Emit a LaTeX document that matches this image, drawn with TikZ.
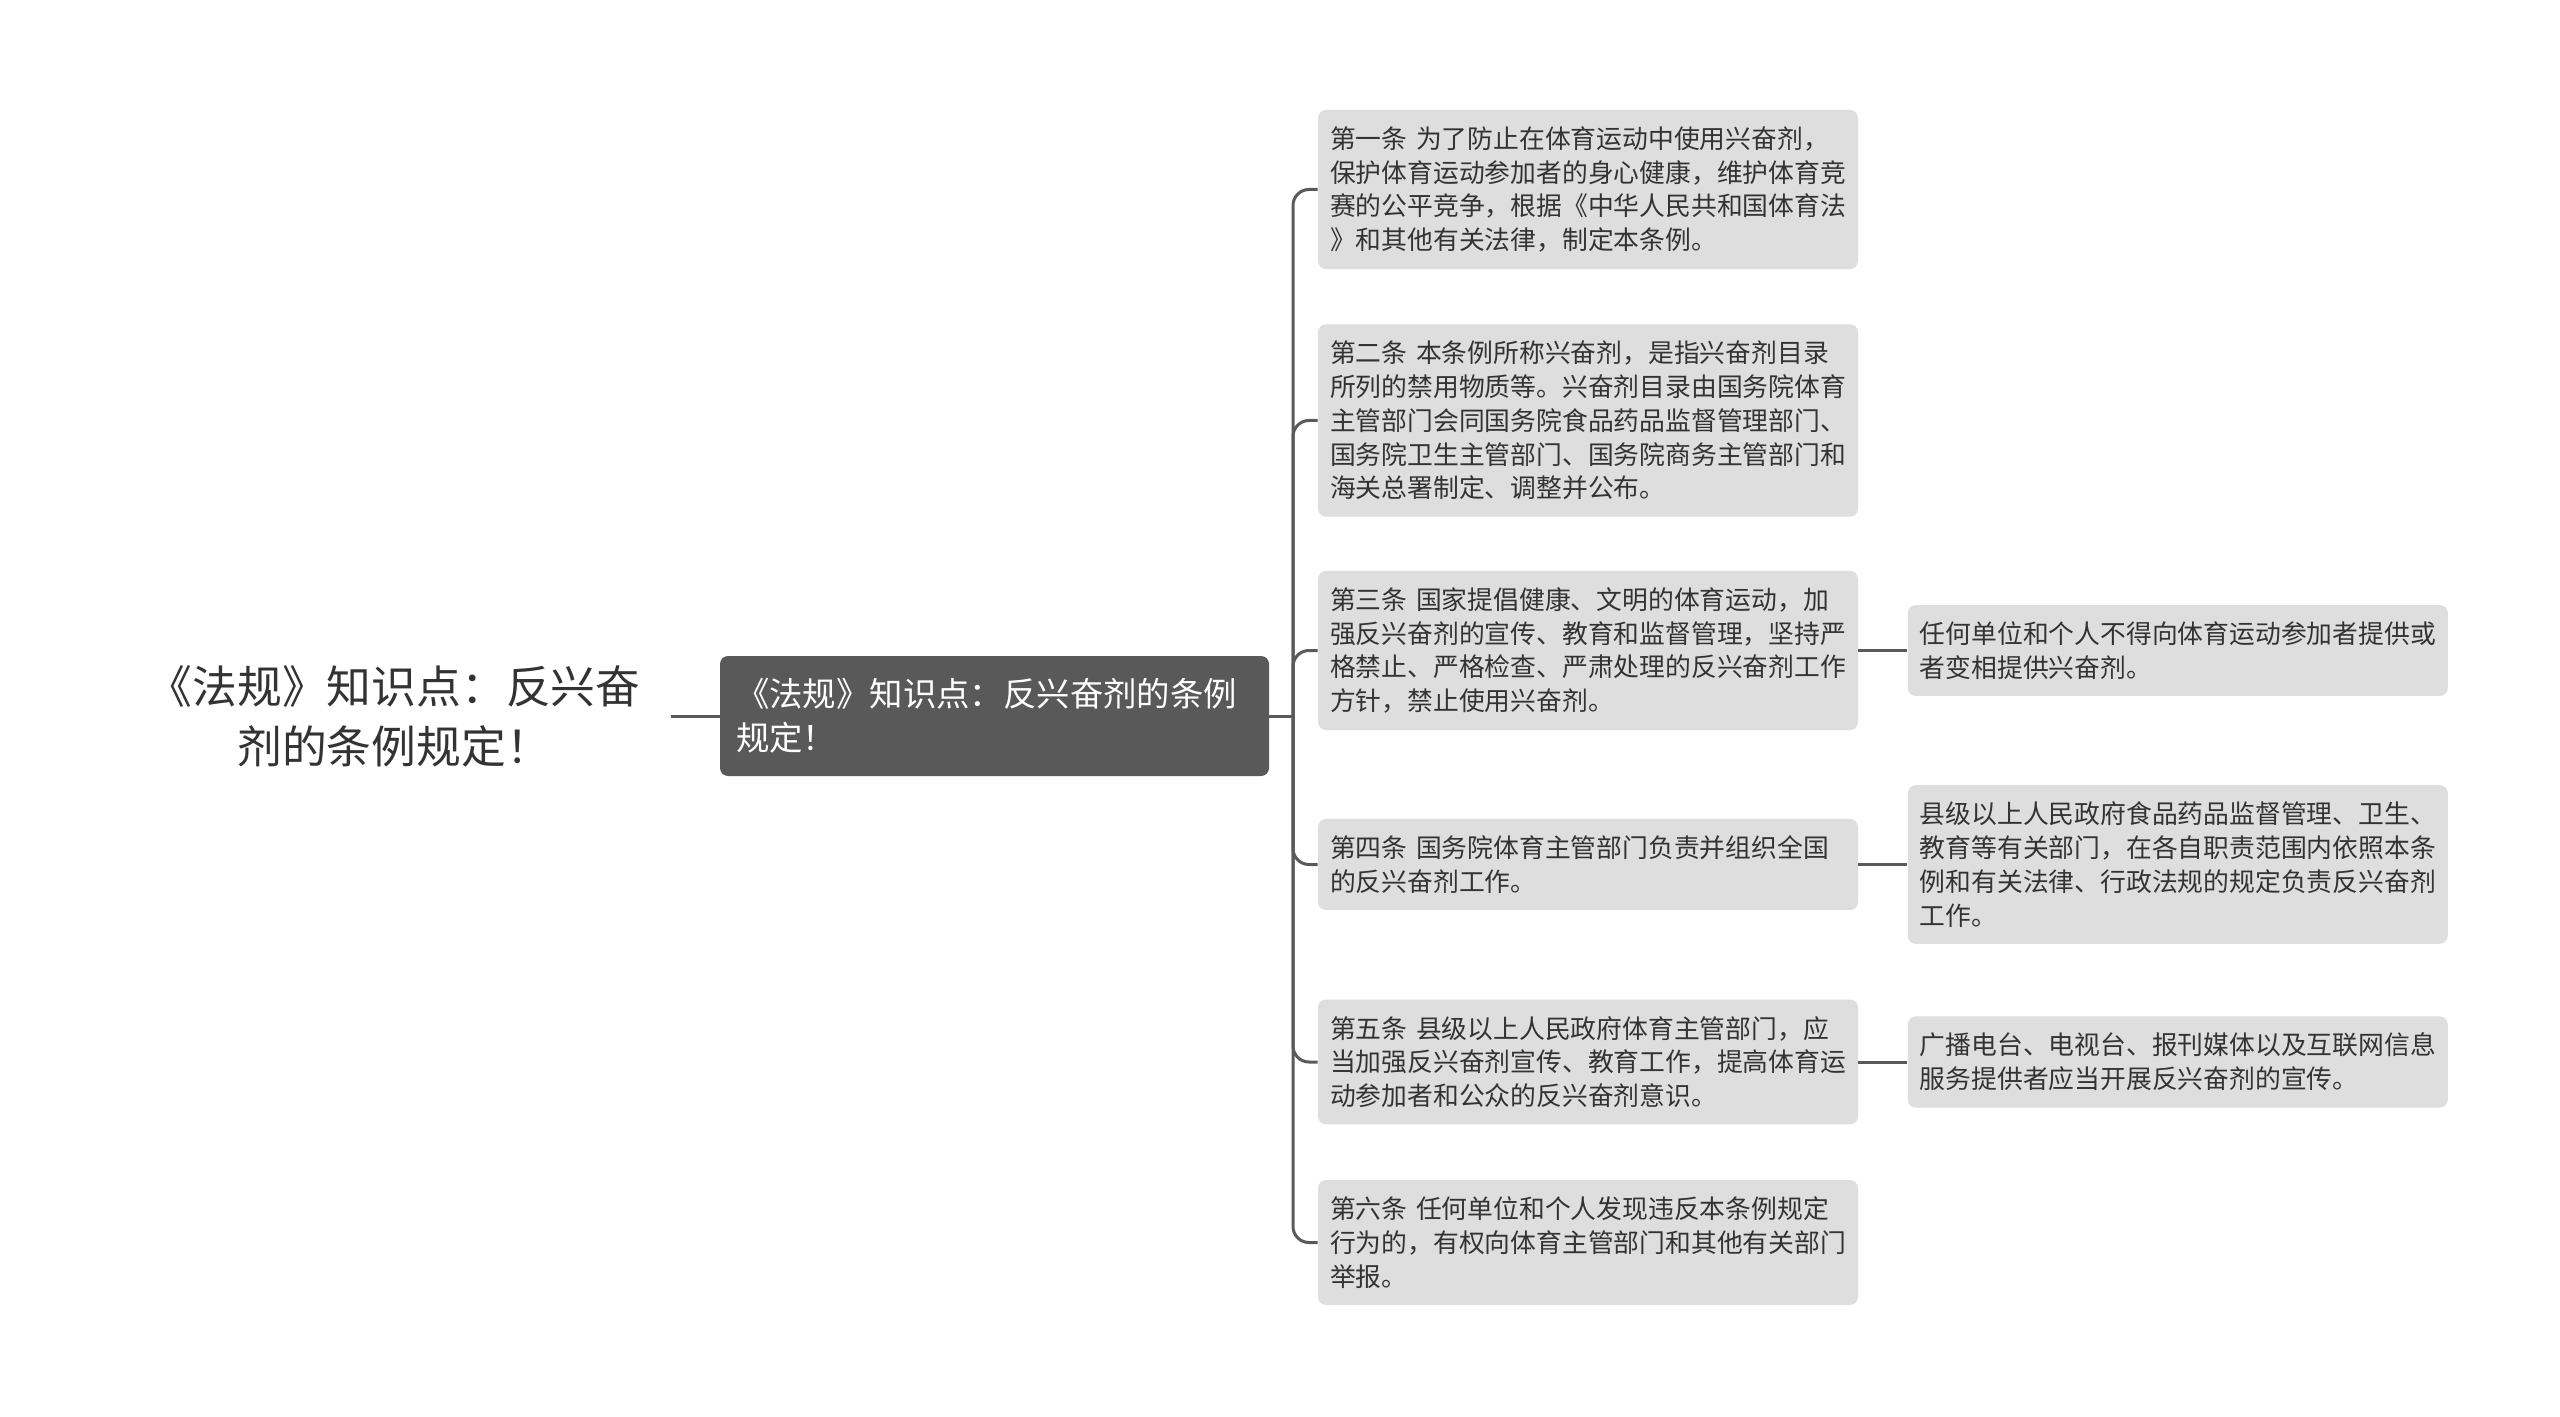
\documentclass[tikz,border=0pt]{standalone}
\usepackage{fontspec}
\setmainfont{Noto Sans CJK SC}
\usepackage{tikz}
\usetikzlibrary{positioning,calc}
\definecolor{boxgray}{HTML}{DEDEDE}
\definecolor{darkbox}{HTML}{595959}
\definecolor{linegray}{HTML}{5A5A5A}
\definecolor{txtgray}{HTML}{333333}
\tikzstyle{rtext}=[rectangle, inner xsep=15pt, text=txtgray, align=center,
                   font=\fontsize{22.4pt}{30pt}\selectfont]
\tikzstyle{cbox}=[rectangle, rounded corners=4pt, fill=darkbox, text=white,
                  minimum height=60pt, inner xsep=8pt, text width=258.5pt, align=left,
                  font=\fontsize{16.7pt}{22pt}\selectfont]
\tikzstyle{abox}=[rectangle, rounded corners=4pt, fill=boxgray, text=txtgray,
                  inner xsep=6pt, inner ysep=8.3pt, text width=258pt, align=left,
                  font=\fontsize{12.9pt}{16.9pt}\selectfont]
\tikzstyle{pline}=[-, line width=1.5pt, draw=linegray, rounded corners=8pt]

\begin{document}
\begin{tikzpicture}[x=0.5pt, y=-0.5pt]
\fill[white] (0,0) rectangle (2560,1417);
\useasboundingbox (0,0) rectangle (2560,1417);

\node (ROOT) [rtext] at (394,716) {《法规》知识点：反兴奋\\剂的条例规定！};
\node (CENTER) [cbox] at (994.5,716) {《法规》知识点：反兴奋剂的条例\\规定！};
\coordinate (HUB) at (1293,716);

\node (ART1) [abox] at (1588,189.5) {第一条 为了防止在体育运动中使用兴奋剂，\\保护体育运动参加者的身心健康，维护体育竞\\赛的公平竞争，根据《中华人民共和国体育法\\》和其他有关法律，制定本条例。};
\node (ART2) [abox] at (1588,420.5) {第二条 本条例所称兴奋剂，是指兴奋剂目录\\所列的禁用物质等。兴奋剂目录由国务院体育\\主管部门会同国务院食品药品监督管理部门、\\国务院卫生主管部门、国务院商务主管部门和\\海关总署制定、调整并公布。};
\node (ART3) [abox] at (1588,650.5) {第三条 国家提倡健康、文明的体育运动，加\\强反兴奋剂的宣传、教育和监督管理，坚持严\\格禁止、严格检查、严肃处理的反兴奋剂工作\\方针，禁止使用兴奋剂。};
\node (ART4) [abox] at (1588,864.5) {第四条 国务院体育主管部门负责并组织全国\\的反兴奋剂工作。};
\node (ART5) [abox] at (1588,1062) {第五条 县级以上人民政府体育主管部门，应\\当加强反兴奋剂宣传、教育工作，提高体育运\\动参加者和公众的反兴奋剂意识。};
\node (ART6) [abox] at (1588,1242.5) {第六条 任何单位和个人发现违反本条例规定\\行为的，有权向体育主管部门和其他有关部门\\举报。};

\node (NOTE3) [abox, right=24.5pt of ART3] {任何单位和个人不得向体育运动参加者提供或\\者变相提供兴奋剂。};
\node (NOTE4) [abox, right=24.5pt of ART4] {县级以上人民政府食品药品监督管理、卫生、\\教育等有关部门，在各自职责范围内依照本条\\例和有关法律、行政法规的规定负责反兴奋剂\\工作。};
\node (NOTE5) [abox, right=24.5pt of ART5] {广播电台、电视台、报刊媒体以及互联网信息\\服务提供者应当开展反兴奋剂的宣传。};

 \draw[pline] (ROOT.east) -- (CENTER.west);
 \draw[pline] (CENTER.east) -- (HUB);
 \draw[pline] (HUB) |- (ART1.west);
 \draw[pline] (HUB) |- (ART2.west);
 \draw[pline] (HUB) |- (ART3.west);
 \draw[pline] (HUB) |- (ART4.west);
 \draw[pline] (HUB) |- (ART5.west);
 \draw[pline] (HUB) |- (ART6.west);
 \draw[pline] (ART3.east) -- (NOTE3.west);
 \draw[pline] (ART4.east) -- (NOTE4.west);
 \draw[pline] (ART5.east) -- (NOTE5.west);

\end{tikzpicture}
\end{document}
